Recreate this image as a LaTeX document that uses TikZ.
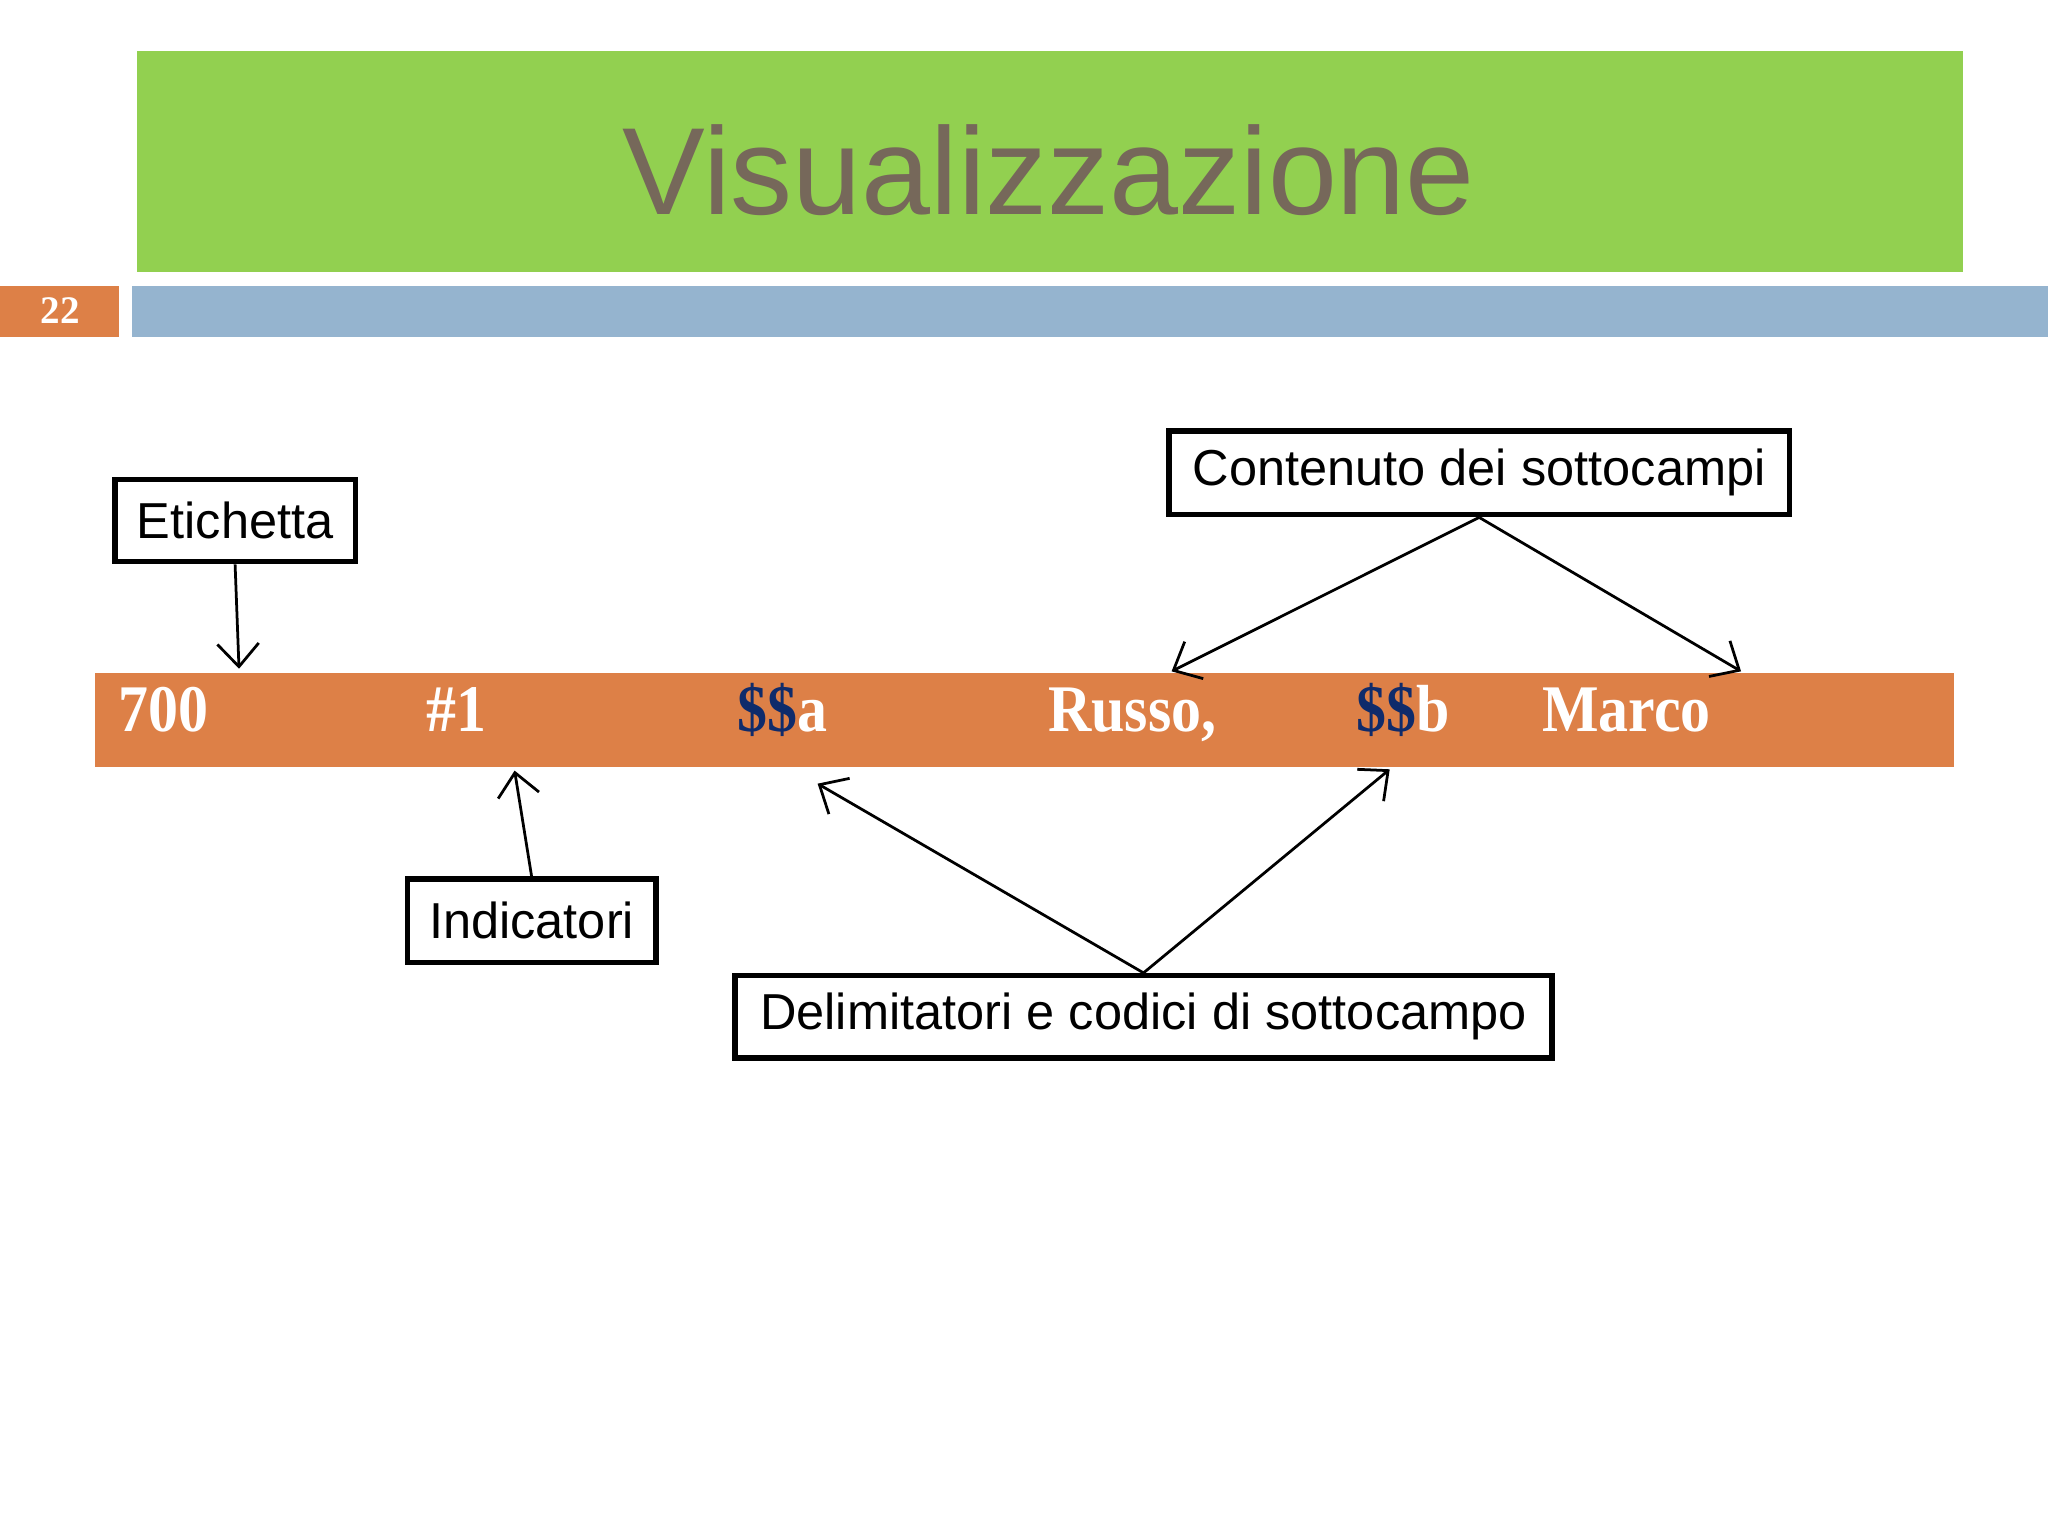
\documentclass[tikz,border=0pt]{standalone}
\usepackage{fontspec}
\setmainfont{Liberation Sans}
\newfontfamily\serifb{Liberation Serif}
\usetikzlibrary{arrows.meta}
\definecolor{gr}{HTML}{92D050}
\definecolor{tt}{HTML}{76685A}
\definecolor{og}{HTML}{DD8047}
\definecolor{bl}{HTML}{95B4CF}
\definecolor{nv}{HTML}{0F2B6B}
\begin{document}
\begin{tikzpicture}[x=0.01cm,y=-0.01cm,
 lbl/.style={draw,line width=1.2pt,inner sep=0pt,font=\fontsize{11pt}{13pt}\selectfont},
 bar/.style={text=white,anchor=base west,font=\serifb\bfseries\fontsize{14.5pt}{16pt}\selectfont,xscale=0.9,inner sep=0},
 arr/.style={-{Straight Barb[length=5pt,width=9pt]},line width=0.6pt}]
\useasboundingbox (0,0) rectangle (1568,1176);
\fill[white] (0,0) rectangle (1568,1176);
\fill[gr] (105,39) rectangle (1503,208);
\node[text=tt,font=\fontsize{27pt}{32pt}\selectfont] (title) at (803,130) {Visualizzazione};
\fill[og] (0,219) rectangle (91,258);
\node[text=white,font=\serifb\bfseries\fontsize{8.5pt}{9pt}\selectfont] (num) at (46,238) {22};
\fill[bl] (101,219) rectangle (1568,258);
\fill[og] (73,515) rectangle (1496,587);
\node[bar] (t1) at (90,560) {700};
\node[bar] (t2) at (326,560) {\#1};
\node[bar] (t3) at (564,560) {\textcolor{nv}{\$\$}a};
\node[bar] (t4) at (802,560) {Russo,};
\node[bar] (t5) at (1038,560) {\textcolor{nv}{\$\$}b};
\node[bar] (t6) at (1180,560) {Marco};
\node[lbl,minimum width=1.84cm,minimum height=0.63cm] (eti) at (180,398.5) {Etichetta};
\node[lbl,minimum width=4.75cm,minimum height=0.64cm] (con) at (1132.5,362) {Contenuto dei sottocampi};
\node[lbl,minimum width=1.90cm,minimum height=0.64cm] (ind) at (407,705) {Indicatori};
\node[lbl,minimum width=6.25cm,minimum height=0.63cm] (del) at (875.5,778.5) {Delimitatori e codici di sottocampo};
\coordinate (a1) at (183,512);
\coordinate (a2) at (897,514);
\coordinate (a3) at (1333,514);
\coordinate (a4) at (394,590);
\coordinate (a5) at (626,600);
\coordinate (a6) at (1064,589);
\draw[arr] (eti.south) -- (a1);
\draw[arr] (con.south) -- (a2);
\draw[arr] (con.south) -- (a3);
\draw[arr] (ind.north) -- (a4);
\draw[arr] (del.north) -- (a5);
\draw[arr] (del.north) -- (a6);
\end{tikzpicture}
\end{document}
